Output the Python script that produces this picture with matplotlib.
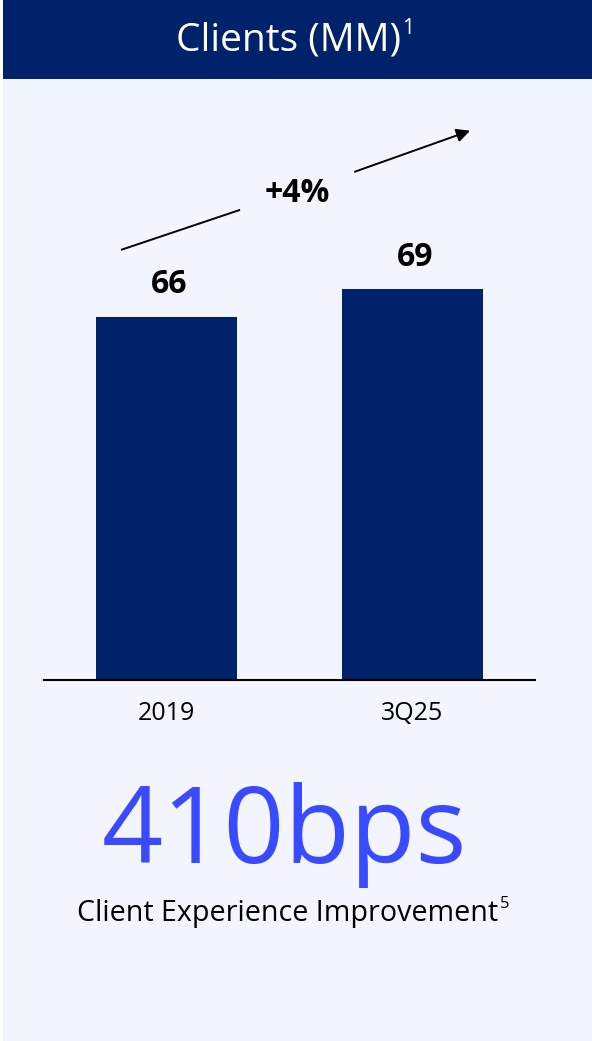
import matplotlib.pyplot as plt
from matplotlib.patches import Rectangle

# data
categories = ['2019', '3Q25']
clients = [66, 69]
bar_labels = ['66', '69']
growth_label = '+4%'
title = 'Clients (MM)'
big_number = '410bps'
big_caption = 'Client Experience Improvement'

navy = '#00226A'
bg = '#F2F5FE'
blue = '#3A4BFF'

plt.rcParams['font.family'] = ['Open Sans', 'Noto Sans', 'DejaVu Sans']

W, H = 592, 1041
fig = plt.figure(figsize=(W / 100, H / 100), dpi=100)
fig.patch.set_facecolor('white')

# panel background and header band
fig.patches.append(Rectangle((3 / W, 0), 1 - 3 / W, 1, transform=fig.transFigure,
                             facecolor=bg, edgecolor='none', zorder=-2))
fig.patches.append(Rectangle((3 / W, 1 - 79 / H), 1 - 3 / W, 79 / H, transform=fig.transFigure,
                             facecolor=navy, edgecolor='none', zorder=-1))


def sup_text(xc, yc, s, sup, size, color, sup_size, rise):
    t = fig.text(xc, yc, s, color=color, fontsize=size, ha='center', va='center')
    bb = t.get_window_extent(renderer=fig.canvas.get_renderer())
    fig.text(bb.x1 / W + 1 / W, yc + rise / H, sup, color=color, fontsize=sup_size,
             ha='left', va='center')


sup_text(289 / W, 1 - 41 / H, title, '1', 28, 'white', 15, 13)

# bar chart
ax = fig.add_axes([44 / W, 1 - 680 / H, 491 / W, 580 / H])
ax.set_facecolor('none')
x = range(len(categories))
ax.bar(x, clients, width=0.573, color=navy, zorder=2)
ax.set_xlim(-0.498, 1.498)
ax.set_ylim(27, 89.3)
for xi, v, lab in zip(x, clients, bar_labels):
    ax.annotate(lab, (xi, v), xytext=(2, 23), textcoords='offset points',
                ha='center', va='center', fontsize=23, fontweight='bold', color='black')

# growth arrow with gap for the label
ax.plot([-0.185, 0.299], [73.2, 77.5], color='black', lw=1.4, solid_capstyle='butt')
ax.annotate('', xy=(1.234, 86.0), xytext=(0.766, 81.6),
            arrowprops=dict(arrowstyle='-|>', color='black', lw=1.4, mutation_scale=20,
                            shrinkA=0, shrinkB=0))
ax.text(0.530, 79.3, growth_label, ha='center', va='center', fontsize=23,
        fontweight='bold', color='black')

for s in ['top', 'right', 'left']:
    ax.spines[s].set_visible(False)
ax.spines['bottom'].set_linewidth(1.5)
ax.spines['bottom'].set_color('black')
ax.set_yticks([])
ax.set_xticks(list(x))
ax.set_xticklabels(categories, fontsize=18)
ax.tick_params(axis='x', length=0, pad=15)

# big number and caption
fig.text(284 / W, 1 - 835 / H, big_number, color=blue, fontsize=77, ha='center', va='center')
sup_text(288 / W, 1 - 914 / H, big_caption, '5', 20.6, 'black', 12, 10)

fig.savefig('out.png', dpi=100, facecolor=fig.get_facecolor())
